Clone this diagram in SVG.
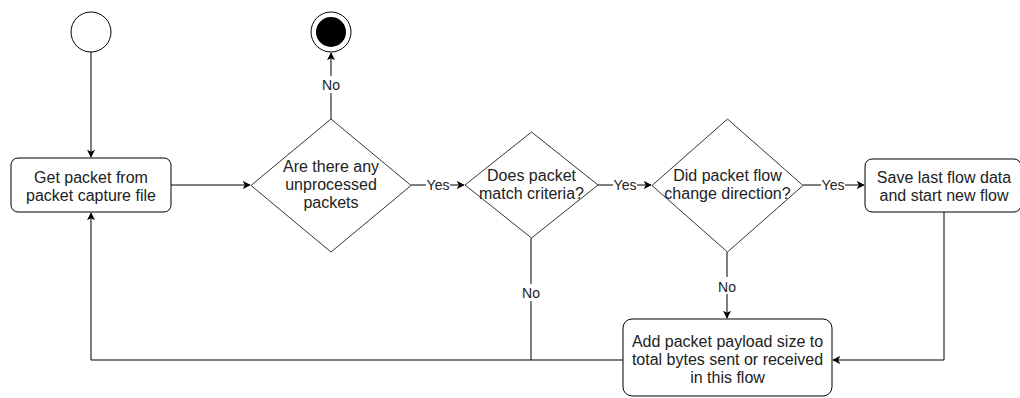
<svg xmlns="http://www.w3.org/2000/svg" width="1020" height="398" viewBox="0 0 1020 398">
<style>
.s{fill:#fff;stroke:#000;stroke-width:1}
.d{fill:#fff;stroke:#333;stroke-width:1}
.t{font-family:"Liberation Sans",Arial,sans-serif;font-size:16px;fill:#222;text-anchor:middle}
.l{font-family:"Liberation Sans",Arial,sans-serif;font-size:14px;fill:#222;text-anchor:middle}
.c{fill:none;stroke:#000;stroke-width:1}
.bg{fill:#fff}
</style>
<defs>
<marker id="a" viewBox="0 0 10 10" refX="9" refY="5" markerWidth="8" markerHeight="8" markerUnits="userSpaceOnUse" orient="auto">
<path d="M0,0 L10,5 L0,10 L2.5,5 z" fill="#000"/>
</marker>
</defs>
<rect width="1020" height="398" fill="#fff"/>
<g id="connectors">
<path class="c" d="M91,52 V157" marker-end="url(#a)"/>
<path class="c" d="M171,185 H250" marker-end="url(#a)"/>
<path class="c" d="M331,119 V53" marker-end="url(#a)"/>
<rect class="bg" x="320" y="76" width="22" height="17"/>
<text class="l" x="331" y="90">No</text>
<path class="c" d="M411,185 H464" marker-end="url(#a)"/>
<rect class="bg" x="426" y="177" width="24" height="16"/>
<text class="l" x="438" y="190">Yes</text>
<path class="c" d="M598,185 H651" marker-end="url(#a)"/>
<rect class="bg" x="613" y="177" width="24" height="16"/>
<text class="l" x="625" y="190">Yes</text>
<path class="c" d="M803,185 H864" marker-end="url(#a)"/>
<rect class="bg" x="821" y="177" width="24" height="16"/>
<text class="l" x="833" y="190">Yes</text>
<path class="c" d="M727,252 V318" marker-end="url(#a)"/>
<rect class="bg" x="716" y="277" width="22" height="17"/>
<text class="l" x="727" y="292">No</text>
<path class="c" d="M944,212 V360 H833" marker-end="url(#a)"/>
<path class="c" d="M531,238 V360"/>
<rect class="bg" x="520" y="284" width="22" height="17"/>
<text class="l" x="531" y="298">No</text>
<path class="c" d="M623,360 H91 V213" marker-end="url(#a)"/>
</g>
<g id="start">
<circle class="s" cx="91" cy="32" r="20"/>
</g>
<g id="end">
<circle class="s" cx="331" cy="32" r="20"/>
<circle cx="331" cy="32" r="15" fill="#000"/>
</g>
<g id="get-packet">
<rect class="s" x="11" y="158" width="160" height="54" rx="7"/>
<text class="t" x="91" y="183">Get packet from</text>
<text class="t" x="91" y="201">packet capture file</text>
</g>
<g id="unprocessed">
<polygon class="d" points="331,119 411,185.5 331,252 251,185.5"/>
<text class="t" x="331" y="172">Are there any</text>
<text class="t" x="331" y="190">unprocessed</text>
<text class="t" x="331" y="208">packets</text>
</g>
<g id="match">
<polygon class="d" points="531.5,132 598,185 531.5,238 465,185"/>
<text class="t" x="531.5" y="181">Does packet</text>
<text class="t" x="531.5" y="199">match criteria?</text>
</g>
<g id="direction">
<polygon class="d" points="727.5,119 803,185.5 727.5,252 652,185.5"/>
<text class="t" x="727.5" y="181">Did packet flow</text>
<text class="t" x="727.5" y="199">change direction?</text>
</g>
<g id="save">
<rect class="s" x="865" y="159" width="156" height="53" rx="7"/>
<text class="t" x="944" y="183">Save last flow data</text>
<text class="t" x="944" y="201">and start new flow</text>
</g>
<g id="add">
<rect class="s" x="623" y="319" width="209" height="77" rx="9"/>
<text class="t" x="727.5" y="347">Add packet payload size to</text>
<text class="t" x="727.5" y="365">total bytes sent or received</text>
<text class="t" x="727.5" y="383">in this flow</text>
</g>
</svg>
